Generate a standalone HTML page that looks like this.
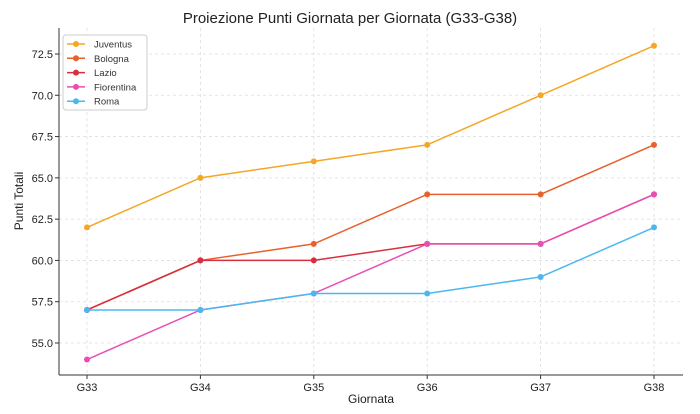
<!DOCTYPE html>
<html><head><meta charset="utf-8"><style>
body{margin:0;background:#fff;}
svg{font-family:"Liberation Sans","DejaVu Sans",sans-serif;}
</style></head><body>
<svg id="c" width="700" height="409"></svg>
<script>
const categories=["G33","G34","G35","G36","G37","G38"];
const seriesNames=["Juventus","Bologna","Lazio","Fiorentina","Roma"];
const juventus=[62,65,66,67,70,73];
const bologna=[57,60,61,64,64,67];
const lazio=[57,60,60,61,61,64];
const fiorentina=[54,57,58,61,61,64];
const roma=[57,57,58,58,59,62];
const yTicks=[55.0,57.5,60.0,62.5,65.0,67.5,70.0,72.5];
const series=[juventus,bologna,lazio,fiorentina,roma];
const colors=["#f5a623","#e8612c","#d62f3f","#e84fb5","#4ab8f0"];
const svg=document.getElementById('c');const NS="http://www.w3.org/2000/svg";
function mk(t,a,p){const e=document.createElementNS(NS,t);for(const k in a)e.setAttribute(k,a[k]);(p||svg).appendChild(e);return e;}
const L=59,R=683,T=28,B=375;
const x=i=>87+i*(654-87)/(categories.length-1);
const y=v=>343-(v-55)*(289/17.5);
let t=mk('text',{x:350,y:23,'text-anchor':'middle','font-size':15,fill:'#222'});t.textContent="Proiezione Punti Giornata per Giornata (G33-G38)";


yTicks.forEach(v=>{
 mk('line',{x1:L,x2:R,y1:y(v),y2:y(v),stroke:'#ddd','stroke-dasharray':'3,3','stroke-width':0.8});
 mk('line',{x1:L-4,x2:L,y1:y(v),y2:y(v),stroke:'#333'});
 const e=mk('text',{x:L-6,y:y(v)+4,'text-anchor':'end','font-size':11,fill:'#222'});e.textContent=v.toFixed(1);
 
 
});
categories.forEach((c,i)=>{
 mk('line',{x1:x(i),x2:x(i),y1:T,y2:B,stroke:'#ddd','stroke-dasharray':'3,3','stroke-width':0.8});
 mk('line',{x1:x(i),x2:x(i),y1:B,y2:B+4,stroke:'#333'});
 const e=mk('text',{x:x(i),y:B+16,'text-anchor':'middle','font-size':11,fill:'#222'});e.textContent=c;
 
 
});
mk('line',{x1:L,x2:L,y1:T,y2:B,stroke:'#333'});
mk('line',{x1:L,x2:R,y1:B,y2:B,stroke:'#333'});
let xt=mk('text',{x:371,y:403,'text-anchor':'middle','font-size':12,fill:'#222'});xt.textContent="Giornata";


let yt=mk('text',{x:0,y:0,'text-anchor':'middle','font-size':12,fill:'#222',transform:'translate(23,201) rotate(-90)'});yt.textContent="Punti Totali";


series.forEach((s,k)=>{
 const g=mk('g',{});
 
 
 mk('polyline',{points:s.map((v,i)=>x(i)+','+y(v)).join(' '),fill:'none',stroke:colors[k],'stroke-width':1.5},g);
 s.forEach((v,i)=>{const p=mk('circle',{cx:x(i),cy:y(v),r:3,fill:colors[k]},g);
 
 });
});
const lg=mk('g',{});


mk('rect',{x:63,y:35,width:84,height:75,rx:3,fill:'#fff',stroke:'#ccc','fill-opacity':0.9},lg);
seriesNames.forEach((n,k)=>{
 const yy=44+k*14.3;
 mk('line',{x1:67,x2:85,y1:yy,y2:yy,stroke:colors[k],'stroke-width':1.5},lg);
 mk('circle',{cx:76,cy:yy,r:3,fill:colors[k]},lg);
 const e=mk('text',{x:94,y:yy+3.5,'font-size':9.5,fill:'#333'},lg);e.textContent=n;
 
 
});
</script>
</body></html>
